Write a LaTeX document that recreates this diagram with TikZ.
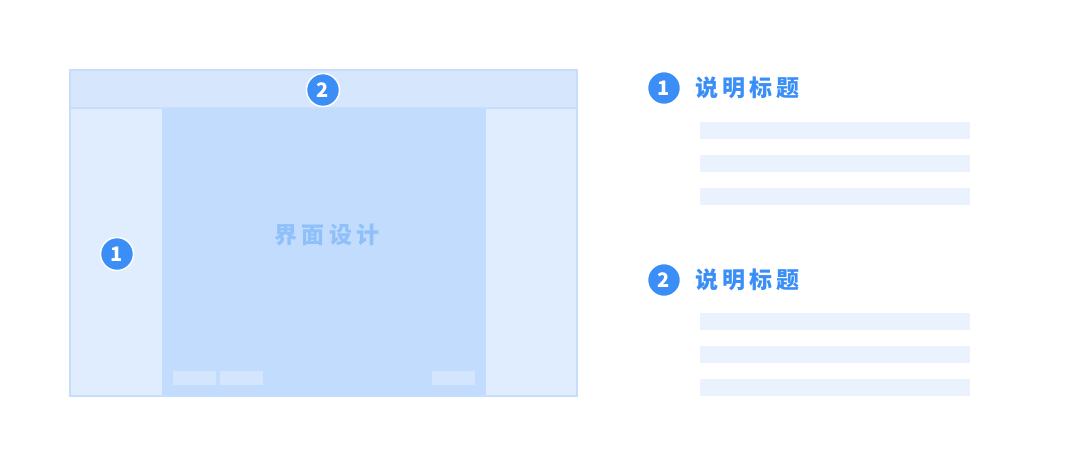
\documentclass[tikz,border=0pt]{standalone}
\usepackage{fontspec}
\usepackage{tikz}
\usetikzlibrary{positioning}
\newfontfamily\cjk{Noto Sans CJK SC}
\newfontfamily\cjkwide[LetterSpace=18]{Noto Sans CJK SC}
\definecolor{framestroke}{HTML}{C6DDFB}
\definecolor{headfill}{HTML}{D6E7FD}
\definecolor{sidefill}{HTML}{E0EDFE}
\definecolor{mainfill}{HTML}{C2DCFD}
\definecolor{tabfill}{HTML}{D4E6FE}
\definecolor{barfill}{HTML}{EAF2FE}
\definecolor{badgeblue}{HTML}{3A8EF6}
\definecolor{ghostblue}{HTML}{90C0F9}
\tikzstyle{badge}=[circle,fill=badgeblue,draw=white,line width=1.5pt,minimum size=33pt,inner sep=0pt,text=white,font=\cjk\fontsize{20}{20}\selectfont\bfseries]
\tikzstyle{desc bar}=[rectangle,fill=barfill,minimum width=270pt,minimum height=17.5pt,inner sep=0pt]
\tikzstyle{tab}=[rectangle,fill=tabfill,minimum width=43pt,minimum height=14pt,inner sep=0pt]
\tikzstyle{heading}=[text=badgeblue,inner sep=0pt,font=\cjkwide\fontsize{23}{23}\selectfont\bfseries]
\newcommand{\badgenode}[3][]{
  \node [badge, #1] (#2) {#3}
}
\newcommand{\descbar}[2][]{
  \node [desc bar, #1] (#2) {}
}
\begin{document}
\begin{tikzpicture}[x=1pt,y=-1pt]
        \useasboundingbox (0,0) rectangle (1080,467);
        % window
        \fill[headfill] (70,70) rectangle (577,108);
        \fill[sidefill] (70,108) rectangle (162,396);
        \fill[mainfill] (162,108) rectangle (486,396);
        \fill[sidefill] (486,108) rectangle (577,396);
        \draw[framestroke,line width=1.5pt] (70,70) rectangle (577,396);
        \draw[framestroke,line width=1.5pt] (70,108) -- (577,108);
        \node[text=ghostblue,font=\cjkwide\fontsize{23}{23}\selectfont\bfseries] (canvas) at (327,235) {界面设计};
        \node[tab] (tab1) at (194.5,377.5) {};
        \node[tab, right=4pt of tab1] (tab2) {};
        \node[tab] (tab3) at (453.5,377.5) {};
        \badgenode[at={(117,254)}]{side}{1};
        \badgenode[at={(323,90)}]{top}{2};

        % notes
        \badgenode[at={(664,88)}]{n1}{1};
          \node[heading, right=14pt of n1] (h1) {说明标题};
           \descbar[at={(835,130.5)}]{b11};
           \descbar[below=15pt of b11]{b12};
           \descbar[below=15pt of b12]{b13};
        \badgenode[at={(664,280)}]{n2}{2};
          \node[heading, right=14pt of n2] (h2) {说明标题};
           \descbar[at={(835,321.5)}]{b21};
           \descbar[below=15pt of b21]{b22};
           \descbar[below=15pt of b22]{b23};
      \end{tikzpicture}
\end{document}
